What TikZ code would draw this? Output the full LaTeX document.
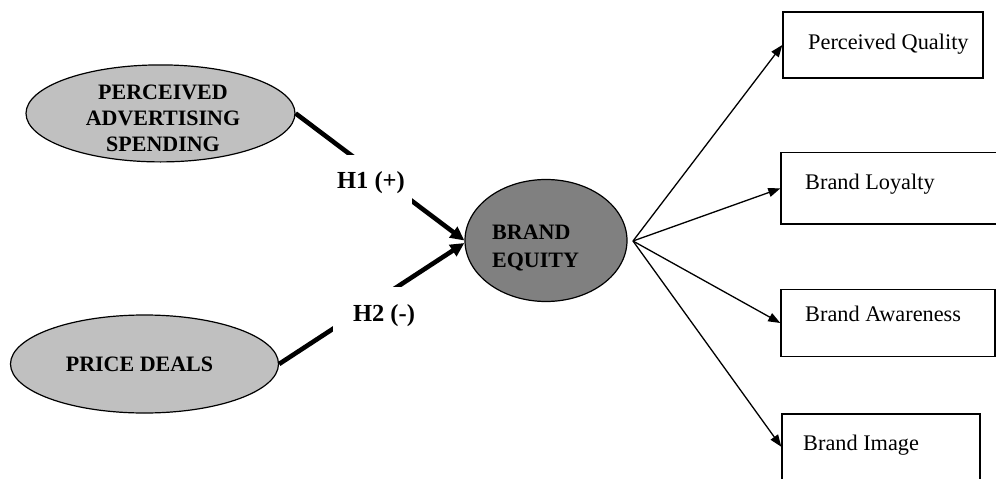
\documentclass[tikz,border=0pt]{standalone}
\usepackage{fontspec}
\setmainfont{Liberation Serif}
\usetikzlibrary{arrows.meta,shapes.geometric}
\definecolor{constructgray}{RGB}{192,192,192}
\definecolor{coregray}{RGB}{128,128,128}
\begin{document}
\begin{tikzpicture}[x=1pt,y=-1pt,
  construct/.style={draw=black, line width=1.2pt, ellipse, inner sep=0pt},
  dimbox/.style={draw=black, line width=1.4pt, rectangle, inner sep=0pt},
  boldtext/.style={font=\fontsize{22}{26}\selectfont\bfseries, inner sep=0pt, align=center},
  dimtext/.style={font=\fontsize{22.3}{26}\selectfont, inner sep=0pt, anchor=base west},
  hyp/.style={line width=4.6pt, -{Triangle[length=14pt,width=13pt]}},
  link/.style={line width=1.3pt, -{Triangle[length=12pt,width=9pt]}},
  hyplabel/.style={fill=white, inner sep=0pt, font=\fontsize{24.5}{28}\selectfont\bfseries}
]
\useasboundingbox (0,0) rectangle (996,479);

% antecedent constructs
\node[construct, fill=constructgray, minimum width=269pt, minimum height=97pt] (pas) at (160.5,113.4) {};
\node[boldtext, anchor=north] (pastext) at (163,85) {PERCEIVED\\ADVERTISING\\SPENDING};
\node[construct, fill=constructgray, minimum width=268pt, minimum height=98pt] (pd) at (144.5,364) {};
\node[boldtext, anchor=base] (pdtext) at (139.5,371.7) {PRICE DEALS};

% central construct
\node[construct, fill=coregray, minimum width=162pt, minimum height=122pt] (be) at (546,240.5) {};
\node[boldtext, anchor=north west, align=left, font=\fontsize{22}{28}\selectfont\bfseries] (betext) at (492,225) {BRAND\\EQUITY};

% dimensions of brand equity
\node[dimbox, minimum width=200pt, minimum height=66pt] (pq) at (883,45) {};
\node[dimbox, minimum width=220pt, minimum height=71.3pt] (bl) at (891,188.4) {};
\node[dimbox, minimum width=214pt, minimum height=67.4pt] (ba) at (888,323) {};
\node[dimbox, minimum width=198pt, minimum height=65.5pt] (bi) at (881,446.75) {};
\node[dimtext] (pqtext) at (808,49) {Perceived Quality};
\node[dimtext] (bltext) at (805,189) {Brand Loyalty};
\node[dimtext] (batext) at (805,321.7) {Brand Awareness};
\node[dimtext] (bitext) at (803,450) {Brand Image};

% hypothesised paths
\draw[hyp] (pas.east) -- (be.west);
\draw[hyp] (pd.east) -- ([yshift=-2.5pt]be.west);
\node[hyplabel, minimum width=82pt, minimum height=56pt] (h1) at (371,183) {H1 (+)};
\node[hyplabel, minimum width=102pt, minimum height=58pt] (h2) at (384,315.5) {H2 (-)};

% reflective links
\coordinate (fan) at (633,241);
\draw[link] (fan) -- (pq.west);
\draw[link] (fan) -- (bl.west);
\draw[link] (fan) -- (ba.west);
\draw[link] (fan) -- (bi.west);
\end{tikzpicture}
\end{document}
